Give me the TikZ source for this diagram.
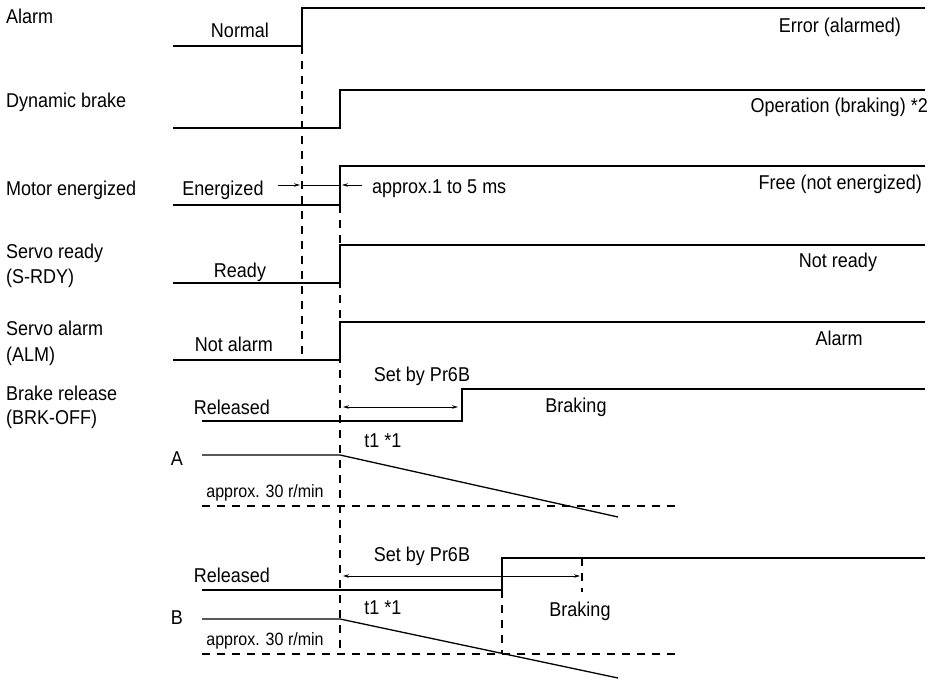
\documentclass[tikz,border=0pt]{standalone}
\usepackage{fontspec}
\setmainfont[FakeStretch=0.9]{Liberation Sans}
\usetikzlibrary{arrows.meta, positioning}

\begin{document}
\begin{tikzpicture}[x=1pt, y=-1pt,
  sig/.style={line width=1.3pt},
  guide/.style={line width=1.1pt, dash pattern=on 8pt off 7pt},
  dim/.style={line width=0.8pt, {Stealth[length=6pt,width=3.5pt]}-{Stealth[length=6pt,width=3.5pt]}},
  tip/.style={line width=0.8pt, -{Stealth[length=6pt,width=3.5pt]}},
  txt/.style={font=\fontsize{20}{22}\selectfont, inner sep=0pt, text height=14.3pt, text depth=0pt},
  small/.style={font=\fontsize{17.8}{20}\selectfont, inner sep=0pt, text height=12.7pt, text depth=0pt},
  signame/.style={txt, anchor=west}
]
  \useasboundingbox (0,0) rectangle (940,681);

  % signal names
  \node[signame] (alarm) at (6,16) {Alarm};
  \node[signame] (dynbrake) at (6,100) {Dynamic brake};
  \node[signame] (motor) at (6,188) {Motor energized};
  \node[signame] (sready) at (6,251) {Servo ready};
  \node[signame] (srdy) at (6,276) {(S-RDY)};
  \node[signame] (salarm) at (6,328) {Servo alarm};
  \node[signame] (alm) at (6,354) {(ALM)};
  \node[signame] (brkrel) at (6,393) {Brake release};
  \node[signame] (brkoff) at (6,417) {(BRK-OFF)};

  % waveforms
  \draw[sig] (173,46) -- (302,46) -- (302,8) -- (925,8);
  \draw[sig] (173,128) -- (340,128) -- (340,90) -- (925,90);
  \draw[sig] (173,205) -- (340,205) -- (340,166) -- (925,166);
  \draw[sig] (173,283) -- (340,283) -- (340,245) -- (925,245);
  \draw[sig] (173,360) -- (340,360) -- (340,322) -- (925,322);
  \draw[sig] (202,421) -- (462,421) -- (462,389) -- (925,389);
  \draw[sig] (202,455) -- (340,455) -- (618,517);
  \draw[sig] (202,590) -- (502,590) -- (502,558) -- (925,558);
  \draw[sig] (202,619) -- (340,619) -- (618,678);

  % timing guides
  \coordinate (g1top) at (302,46);
  \coordinate (g1bot) at (302,357);
  \coordinate (g2top) at (340,205);
  \coordinate (g2bot) at (340,654);
  \draw[guide] (g1top) -- (g1bot);
  \draw[guide] (g2top) -- (g2bot);
  \draw[guide] (202,506) -- (680,506);
  \draw[guide] (202,654) -- (680,654);
  \draw[guide] (502,590) -- (502,654);
  \draw[guide] (582,558) -- (582,592);

  % intervals
  \draw[tip] (278,185) -- (300,185);
  \draw[line width=0.8pt] (302,185) -- (340,185);
  \draw[tip] (362,185) -- (342,185);
  \draw[dim] (343,407) -- (458,407);
  \draw[dim] (343,576) -- (580,576);

  % state labels
  \node[txt] (normal) at (240,30) {Normal};
  \node[txt, anchor=east] (error) at (901,25) {Error (alarmed)};
  \node[txt, anchor=east] (braking) at (928,105) {Operation (braking) *2};
  \node[txt] (energized) at (223,188) {Energized};
  \node[txt, anchor=west] (delay) at (372,186) {approx.1 to 5 ms};
  \node[txt, anchor=east] (free) at (922,182) {Free (not energized)};
  \node[txt] (ready) at (240,270) {Ready};
  \node[txt] (notready) at (838,260) {Not ready};
  \node[txt] (notalarm) at (234,344) {Not alarm};
  \node[txt] (almon) at (839,338) {Alarm};

  % case A
  \node[txt] (setA) at (422,374) {Set by Pr6B};
  \node[txt] (relA) at (232,407) {Released};
  \node[txt] (brkA) at (576,405) {Braking};
  \node[txt] (tA) at (383,440) {t1 *1};
  \node[txt] (caseA) at (177,458) {A};
  \node[small] (spdA) at (265,491) {approx. 30 r/min};

  % case B
  \node[txt] (setB) at (422,554) {Set by Pr6B};
  \node[txt] (relB) at (232,575) {Released};
  \node[txt] (tB) at (383,607) {t1 *1};
  \node[txt] (brkB) at (580,609) {Braking};
  \node[txt] (caseB) at (177,617) {B};
  \node[small] (spdB) at (265,639) {approx. 30 r/min};
\end{tikzpicture}
\end{document}
